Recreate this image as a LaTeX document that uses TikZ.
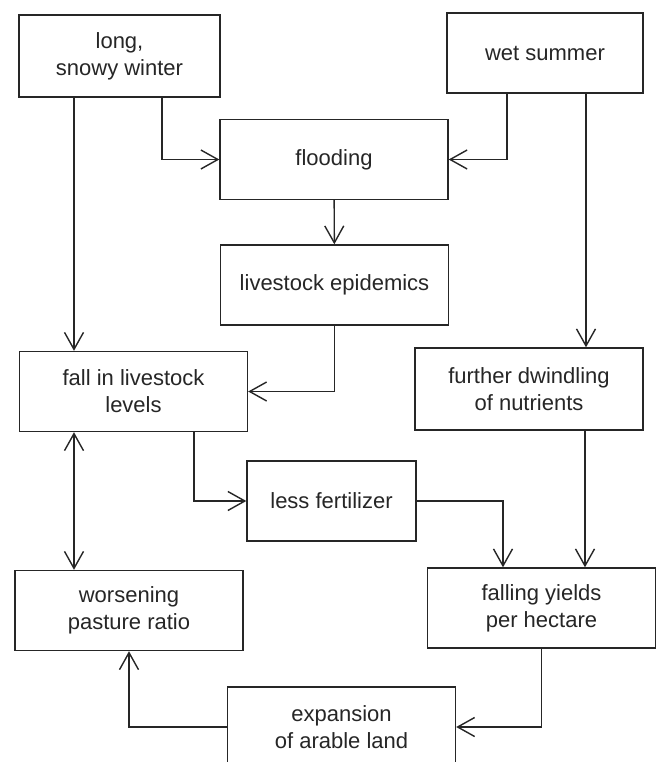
\documentclass[tikz,border=0pt]{standalone}
\usepackage{fontspec}
\setsansfont{Liberation Sans}
\usepackage{tikz}
\usetikzlibrary{arrows.meta, positioning, calc}

\begin{document}
\begin{tikzpicture}[
        x=1pt, y=-1pt,
        font=\sffamily\fontsize{22}{27}\selectfont,
        box/.style={draw=black!85, line width=1.4pt, align=center, inner sep=0pt,
            text=black!85, minimum width=228pt, minimum height=80pt},
        arr/.style={-{Straight Barb[length=17pt, width=19pt, line width=1.4pt]}, line width=1.4pt, draw=black!85},
        arrboth/.style={{Straight Barb[length=17pt, width=19pt, line width=1.4pt]}-{Straight Barb[length=17pt, width=19pt, line width=1.4pt]}, line width=1.4pt, draw=black!85}
    ]
        \clip (0,0) rectangle (656,762);
        \fill[white] (0,0) rectangle (656,762);

        % causes
        \node[box, minimum width=201pt, minimum height=82pt] (winter) at (119.5,56) {long,\\snowy winter};
        \node[box, minimum width=196pt] (summer) at (545,53) {wet summer};
        \node[box] (flooding) at (334,159.5) {flooding};
        \node[box] (epidemics) at (334.5,285) {livestock epidemics};

        % middle row
        \node[box] (fall) at (133.5,391.5) {fall in livestock\\levels};
        \node[box, minimum height=82pt] (dwindling) at (529,389) {further dwindling\\of nutrients};
        \node[box, minimum width=169pt] (fertilizer) at (331.5,501) {less fertilizer};

        % bottom
        \node[box] (pasture) at (129,610.5) {worsening\\pasture ratio};
        \node[box] (falling) at (541.5,608) {falling yields\\per hectare};
        \node[box] (expansion) at (341.5,727) {expansion\\of arable land};

        \draw[arr] ([xshift=-45.5pt]winter.south) -- ([xshift=-45.5pt]winter.south |- fall.north);
        \draw[arr] ([xshift=42.5pt]winter.south) |- (flooding.west);
        \draw[arr] ([xshift=-38pt]summer.south) |- (flooding.east);
        \draw[arr] ([xshift=41pt]summer.south) -- ([xshift=41pt]summer.south |- dwindling.north);
        \draw[arr] (flooding) -- (epidemics);
        \draw[arr] (epidemics.south) |- (fall.east);
        \draw[arrboth] ([xshift=-59.5pt]fall.south) -- ([xshift=-59.5pt]fall.south |- pasture.north);
        \draw[arr] ([xshift=60.5pt]fall.south) |- (fertilizer.west);
        \draw[arr] (fertilizer.east) -| ([xshift=-38.5pt]falling.north);
        \draw[arr] ([xshift=56pt]dwindling.south) -- ([xshift=56pt]dwindling.south |- falling.north);
        \draw[arr] (falling.south) |- (expansion.east);
        \draw[arr] (expansion.west) -| (pasture.south);
    \end{tikzpicture}
\end{document}
